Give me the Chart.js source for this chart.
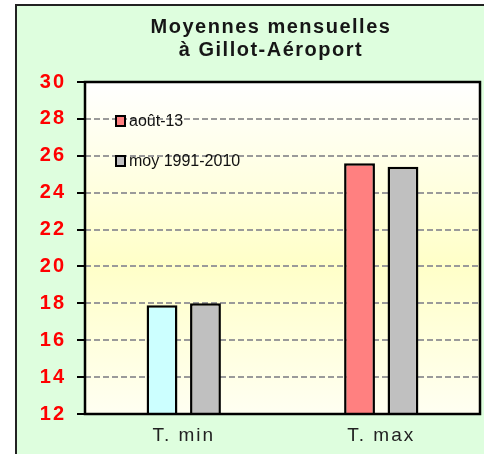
<!DOCTYPE html>
<html>
<head>
<meta charset="utf-8">
<script src="https://cdn.jsdelivr.net/npm/chart.js@4"></script>
<style>
    html, body { margin: 0; padding: 0; background: #fff; }
</style>
</head>
<body>
<canvas id="canvas-1" width="484" height="454"></canvas>
<script>
    'use strict';

    // data
    var categories = ['T. min', 'T. max'];
    var seriesNames = ['août-13', 'moy 1991-2010'];
    var aout13 = [17.9, 25.6];
    var moy19912010 = [18.0, 25.4];
    var yTicks = [12, 14, 16, 18, 20, 22, 24, 26, 28, 30];
    var titleLines = ['Moyennes mensuelles', 'à Gillot-Aéroport'];

    var FONT = "'Liberation Sans', Arial, sans-serif";
    var legendColors = ['#ff8080', '#c0c0c0'];

    // frame, green background and plot gradient, drawn before the chart
    var backdrop = {
        id: 'backdrop',
        beforeDraw: function (chart) {
            var ctx = chart.ctx, a = chart.chartArea;
            ctx.save();
            ctx.fillStyle = '#ffffff';
            ctx.fillRect(0, 0, chart.width, chart.height);
            ctx.fillStyle = '#defede';
            ctx.fillRect(16, 5, chart.width, chart.height);
            ctx.strokeStyle = '#222';
            ctx.lineWidth = 2;
            ctx.beginPath();
            ctx.moveTo(16, chart.height + 2);
            ctx.lineTo(16, 5);
            ctx.lineTo(chart.width + 2, 5);
            ctx.stroke();
            var g = ctx.createLinearGradient(0, a.top, 0, a.bottom);
            g.addColorStop(0, '#ffffff');
            g.addColorStop(0.55, '#ffffc8');
            g.addColorStop(1, '#fffff2');
            ctx.fillStyle = g;
            ctx.fillRect(a.left, a.top, a.right - a.left, a.bottom - a.top);
            ctx.restore();
            ctx.letterSpacing = '2px';
        },
        afterDraw: function (chart) {
            var ctx = chart.ctx, a = chart.chartArea;
            ctx.save();
            ctx.strokeStyle = '#000';
            ctx.lineWidth = 2.5;
            ctx.strokeRect(a.left, a.top, a.right - a.left, a.bottom - a.top);

            // title
            ctx.letterSpacing = '1.5px';
            ctx.font = 'bold 20px ' + FONT;
            ctx.fillStyle = '#161616';
            ctx.textAlign = 'center';
            ctx.textBaseline = 'alphabetic';
            ctx.fillText(titleLines[0], 271, 33);
            ctx.fillText(titleLines[1], 271, 56);

            // legend inside the plot
            ctx.letterSpacing = '0px';
            ctx.font = '16px ' + FONT;
            ctx.textBaseline = 'middle';
            ctx.textAlign = 'left';
            chart.data.datasets.forEach(function (ds, i) {
                var y = 122 + i * 40;
                ctx.fillStyle = legendColors[i];
                ctx.fillRect(a.left + 31, y - 6, 9, 10);
                ctx.lineWidth = 2;
                ctx.strokeStyle = '#000';
                ctx.strokeRect(a.left + 31, y - 6, 9, 10);
                ctx.fillStyle = '#111';
                ctx.fillText(ds.label, a.left + 44, y);
            });
            ctx.restore();
        }
    };

    var barData = {
        labels: categories,
        datasets: [
            {
                label: seriesNames[0],
                data: aout13,
                backgroundColor: ['#ccffff', '#ff8080'],
                borderColor: '#000',
                borderWidth: 2.5,
                borderSkipped: false
            },
            {
                label: seriesNames[1],
                data: moy19912010,
                backgroundColor: '#c0c0c0',
                borderColor: '#000',
                borderWidth: 2.5,
                borderSkipped: false
            }
        ]
    };

    var ctx = document.getElementById('canvas-1');
    var chart = new Chart(ctx, {
        type: 'bar',
        data: barData,
        plugins: [backdrop],
        options: {
            responsive: false,
            animation: false,
            categoryPercentage: 0.44,
            barPercentage: 0.71,
            layout: { padding: { left: 0, right: 4, top: 82, bottom: 0 } },
            plugins: {
                legend: { display: false },
                tooltip: { enabled: false },
                title: { display: false }
            },
            scales: {
                x: {
                    grid: { display: false, drawTicks: false },
                    border: { display: false },
                    ticks: {
                        color: '#222',
                        padding: 10,
                        font: { family: FONT, size: 19 }
                    },
                    afterFit: function (axis) { axis.height = 40; }
                },
                y: {
                    min: 12,
                    max: 30,
                    afterBuildTicks: function (axis) {
                        axis.ticks = yTicks.map(function (v) { return { value: v }; });
                    },
                    grid: {
                        color: '#9a9a9a',
                        lineWidth: 2,
                        tickColor: '#000',
                        tickWidth: 2,
                        tickLength: 8,
                        tickBorderDash: []
                    },
                    border: { display: false, dash: [6, 3] },
                    ticks: {
                        color: '#ff0000',
                        padding: 11,
                        font: { family: FONT, size: 20, weight: 'bold' }
                    },
                    afterFit: function (axis) { axis.width = 85; }
                }
            }
        }
    });
</script>
</body>
</html>
